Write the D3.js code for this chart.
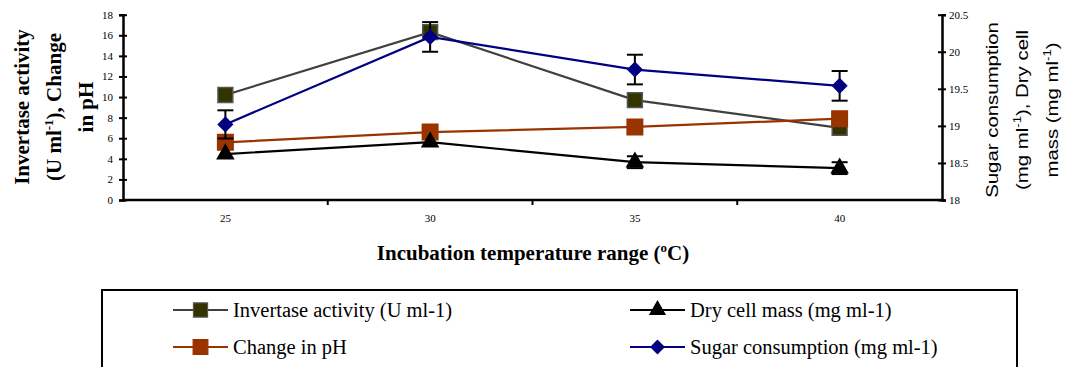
<!DOCTYPE html>
<html>
<head>
<meta charset="utf-8">
<script src="https://cdn.jsdelivr.net/npm/d3@7"></script>
<style>
    body { margin: 0; background: #fff; }
    svg { display: block; }
</style>
</head>
<body>
<svg id="chart"></svg>
<script>
// data
const temperatures = ["25", "30", "35", "40"];
const invertase = [10.2, 16.3, 9.7, 7.0];
const invertaseErr = [0, 0.5, 0, 0];
const phChange = [5.6, 6.6, 7.1, 7.9];
const dryCellMass = [18.62, 18.78, 18.51, 18.43];
const dryCellErr = [0, 0, 0.08, 0.08];
const sugarUse = [19.02, 20.2, 19.76, 19.54];
const sugarErr = [0.19, 0.2, 0.2, 0.2];
const leftTicks = [0, 2, 4, 6, 8, 10, 12, 14, 16, 18];
const rightTicks = [18, 18.5, 19, 19.5, 20, 20.5];

var width = 1073, height = 367;
var plot = { left: 123, right: 942, top: 14.7, bottom: 200 };
var SERIF = "'Liberation Serif', 'Times New Roman', serif";
var SANS = "'Liberation Sans', Arial, sans-serif";

var svg = d3.select("#chart")
    .attr("width", width)
    .attr("height", height);

// scales
var x = d3.scaleBand()
    .domain(temperatures)
    .range([plot.left, plot.right]);
var yL = d3.scaleLinear().domain([0, 18]).range([plot.bottom, plot.top]);
var yR = d3.scaleLinear().domain([18, 20.5]).range([plot.bottom, plot.top]);
var cx = d => x(d) + x.bandwidth() / 2;

// x axis: line + ticks between categories
var gx = svg.append("g")
    .attr("transform", "translate(0," + plot.bottom + ")");
gx.append("line")
    .attr("x1", plot.left).attr("x2", plot.right)
    .attr("stroke", "#000").attr("stroke-width", 2.5);
gx.selectAll(".xtick")
    .data(temperatures.slice(1))
    .enter().append("line")
    .attr("x1", d => x(d)).attr("x2", d => x(d))
    .attr("y1", 0).attr("y2", 5)
    .attr("stroke", "#000").attr("stroke-width", 2);
gx.selectAll(".xlab")
    .data(temperatures)
    .enter().append("text")
    .attr("x", d => cx(d))
    .attr("y", 22)
    .attr("text-anchor", "middle")
    .attr("font-family", SERIF)
    .attr("font-size", 11)
    .text(d => d);

// left axis
var gyL = svg.append("g")
    .attr("transform", "translate(" + plot.left + ",0)")
    .call(d3.axisLeft(yL).tickValues(leftTicks).tickFormat(d => d).tickSize(4).tickPadding(6))
    .attr("font-family", SERIF)
    .attr("font-size", 11);
gyL.select(".domain").attr("stroke-width", 2.5);
gyL.selectAll(".tick line").attr("x1", 4).attr("stroke-width", 2);

// right axis
var gyR = svg.append("g")
    .attr("transform", "translate(" + plot.right + ",0)")
    .call(d3.axisRight(yR).tickValues(rightTicks).tickFormat(d => d).tickSize(4).tickPadding(3))
    .attr("font-family", SERIF)
    .attr("font-size", 11);
gyR.select(".domain").attr("stroke-width", 2.5);
gyR.selectAll(".tick line").attr("x1", -4).attr("stroke-width", 2);

// series
var series = [
    { name: "Invertase activity (U ml-1)", values: invertase, err: invertaseErr, y: yL,
      line: "#404040", fill: "#333300", stroke: "#555", symbol: d3.symbolSquare, size: 220 },
    { name: "Change in pH", values: phChange, err: null, y: yL,
      line: "#993300", fill: "#993300", stroke: "#993300", symbol: d3.symbolSquare, size: 240 },
    { name: "Dry cell mass (mg ml-1)", values: dryCellMass, err: dryCellErr, y: yR,
      line: "#000000", fill: "#000000", stroke: "#000", symbol: d3.symbolTriangle, size: 110 },
    { name: "Sugar consumption (mg ml-1)", values: sugarUse, err: sugarErr, y: yR,
      line: "#000080", fill: "#000080", stroke: "#000080", symbol: d3.symbolDiamond2, size: 125 }
];

series.forEach(s => {
    var pts = temperatures.map((t, i) => ({ t: t, v: s.values[i], e: s.err ? s.err[i] : 0 }));
    var lineFn = d3.line().x(d => cx(d.t)).y(d => s.y(d.v));
    var g = svg.append("g");
    g.append("path")
        .attr("d", lineFn(pts))
        .attr("fill", "none")
        .attr("stroke", s.line)
        .attr("stroke-width", 2.2);
    // error bars
    var eb = g.selectAll(".err")
        .data(pts.filter(d => d.e > 0))
        .enter().append("g")
        .attr("stroke", "#000").attr("stroke-width", 2);
    eb.append("line")
        .attr("x1", d => cx(d.t)).attr("x2", d => cx(d.t))
        .attr("y1", d => s.y(d.v - d.e)).attr("y2", d => s.y(d.v + d.e));
    eb.append("line")
        .attr("x1", d => cx(d.t) - 8).attr("x2", d => cx(d.t) + 8)
        .attr("y1", d => s.y(d.v + d.e)).attr("y2", d => s.y(d.v + d.e));
    eb.append("line")
        .attr("x1", d => cx(d.t) - 8).attr("x2", d => cx(d.t) + 8)
        .attr("y1", d => s.y(d.v - d.e)).attr("y2", d => s.y(d.v - d.e));
    g.selectAll(".mark")
        .data(pts)
        .enter().append("path")
        .attr("transform", d => "translate(" + cx(d.t) + "," + s.y(d.v) + ")")
        .attr("d", d3.symbol().type(s.symbol).size(s.size))
        .attr("fill", s.fill)
        .attr("stroke", s.stroke)
        .attr("stroke-width", 1.5);
});

// axis titles
var leftTitle = svg.append("text")
    .attr("transform", "translate(0,107) rotate(-90)")
    .attr("text-anchor", "middle")
    .attr("font-family", SERIF)
    .attr("font-weight", "bold")
    .attr("font-size", 21);
leftTitle.append("tspan").attr("x", 0).attr("y", 29).text("Invertase activity");
var lt2 = leftTitle.append("tspan").attr("x", 0).attr("y", 61);
lt2.append("tspan").text("(U ml");
lt2.append("tspan").attr("dy", -8).attr("font-size", 13).text("-1");
lt2.append("tspan").attr("dy", 8).text("), Change");
leftTitle.append("tspan").attr("x", 0).attr("y", 93).text("in pH");

var rightTitle = svg.append("text")
    .attr("transform", "translate(0,110) rotate(-90) scale(1.2,1)")
    .attr("text-anchor", "middle")
    .attr("font-family", SANS)
    .attr("font-size", 17);
rightTitle.append("tspan").attr("x", 0).attr("y", 998).text("Sugar consumption");
var rt2 = rightTitle.append("tspan").attr("x", 0).attr("y", 1028);
rt2.append("tspan").text("(mg ml");
rt2.append("tspan").attr("dy", -7).attr("font-size", 11).text("-1");
rt2.append("tspan").attr("dy", 7).text("), Dry cell");
var rt3 = rightTitle.append("tspan").attr("x", 0).attr("y", 1058);
rt3.append("tspan").text("mass (mg ml");
rt3.append("tspan").attr("dy", -7).attr("font-size", 11).text("-1");
rt3.append("tspan").attr("dy", 7).text(")");

var xTitle = svg.append("text")
    .attr("x", 533)
    .attr("y", 260)
    .attr("text-anchor", "middle")
    .attr("font-family", SERIF)
    .attr("font-weight", "bold")
    .attr("font-size", 21);
xTitle.append("tspan").text("Incubation temperature range (");
xTitle.append("tspan").attr("dy", -8).attr("font-size", 13).text("o");
xTitle.append("tspan").attr("dy", 8).text("C)");

// legend
var legend = svg.append("g");
legend.append("rect")
    .attr("x", 102).attr("y", 290)
    .attr("width", 915).attr("height", 120)
    .attr("fill", "none")
    .attr("stroke", "#000")
    .attr("stroke-width", 2);

var legendPos = [
    { x: 173, y: 310 },
    { x: 173, y: 347 },
    { x: 630, y: 310 },
    { x: 630, y: 347 }
];
series.forEach((s, i) => {
    var p = legendPos[i];
    var lg = legend.append("g").attr("transform", "translate(" + p.x + "," + p.y + ")");
    lg.append("line")
        .attr("x1", 0).attr("x2", 55)
        .attr("stroke", s.line).attr("stroke-width", 2);
    lg.append("path")
        .attr("transform", "translate(27.5,0)")
        .attr("d", d3.symbol().type(s.symbol).size(s.size * 0.9))
        .attr("fill", s.fill)
        .attr("stroke", s.stroke)
        .attr("stroke-width", 1.2);
    lg.append("text")
        .attr("x", 60)
        .attr("y", 7)
        .attr("font-family", SERIF)
        .attr("font-size", 20.5)
        .text(s.name);
});
</script>
</body>
</html>
